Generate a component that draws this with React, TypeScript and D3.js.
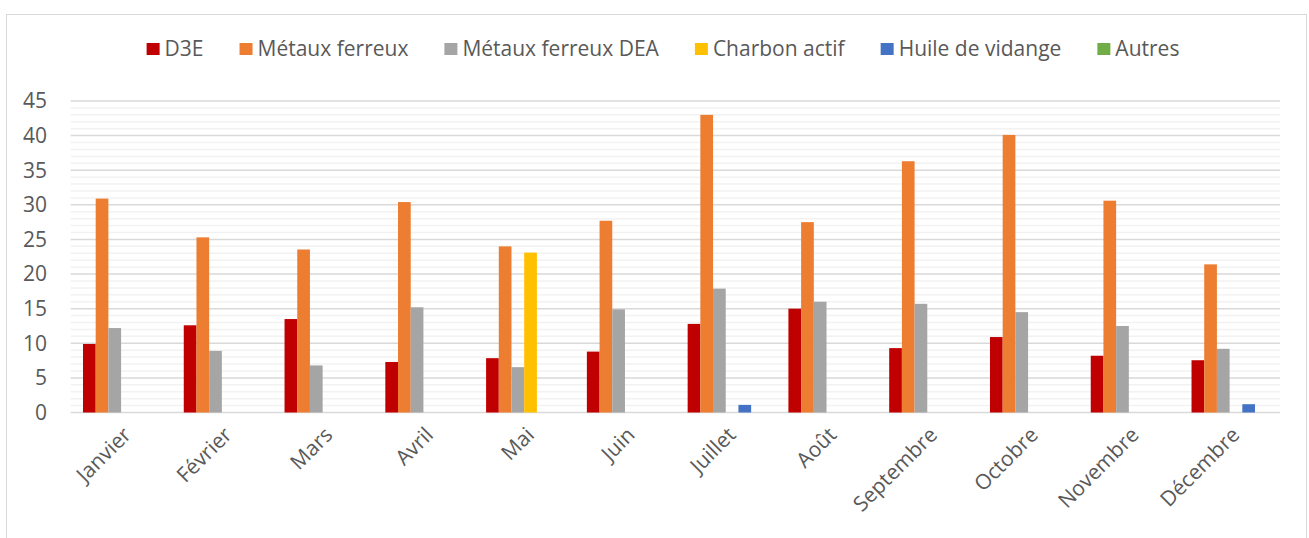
import React, { useEffect, useRef } from "react";
import * as d3 from "d3";

// --- Data ---
const months = [
  "Janvier", "Février", "Mars", "Avril", "Mai", "Juin",
  "Juillet", "Août", "Septembre", "Octobre", "Novembre", "Décembre",
];
const seriesNames = [
  "D3E", "Métaux ferreux", "Métaux ferreux DEA",
  "Charbon actif", "Huile de vidange", "Autres",
];
const d3e = [9.9, 12.6, 13.5, 7.3, 7.85, 8.8, 12.8, 15.0, 9.3, 10.9, 8.2, 7.55];
const metauxFerreux = [30.9, 25.3, 23.55, 30.4, 24.0, 27.7, 43.0, 27.5, 36.3, 40.1, 30.6, 21.4];
const metauxFerreuxDEA = [12.2, 8.9, 6.8, 15.2, 6.55, 14.9, 17.9, 16.0, 15.7, 14.5, 12.5, 9.2];
const charbonActif = [0, 0, 0, 0, 23.1, 0, 0, 0, 0, 0, 0, 0];
const huileVidange = [0, 0, 0, 0, 0, 0, 1.1, 0, 0, 0, 0, 1.2];
const autres = [0, 0, 0, 0, 0, 0, 0, 0, 0, 0, 0, 0];
const yTicks = [0, 5, 10, 15, 20, 25, 30, 35, 40, 45];
const colors = ["#C00000", "#ED7D31", "#A5A5A5", "#FFC000", "#4472C4", "#70AD47"];

const allSeries = [d3e, metauxFerreux, metauxFerreuxDEA, charbonActif, huileVidange, autres];

const App = () => {
  const svgRef = useRef<SVGSVGElement | null>(null);

  useEffect(() => {
    const root = d3.select(svgRef.current);
    root.selectAll("*").remove();

    const width = 1309;
    const height = 538;
    const font = "'Open Sans', sans-serif";
    const textColor = "#595959";
    const fontSize = "21px";

    root.attr("width", width).attr("height", height);

    // chart frame
    root
      .append("rect")
      .attr("x", 6.5)
      .attr("y", 14.5)
      .attr("width", 1300)
      .attr("height", 540)
      .attr("fill", "#fff")
      .attr("stroke", "#D9D9D9");

    const plot = { left: 70.7, right: 1280, top: 101, bottom: 412.5 };

    // --- Scales ---
    const x0 = d3.scaleBand().domain(months).range([plot.left, plot.right]).padding(0);
    const groupPad = x0.bandwidth() * 0.122;
    const x1 = d3
      .scaleBand()
      .domain(seriesNames)
      .range([groupPad, x0.bandwidth() - groupPad])
      .padding(0);
    const y = d3.scaleLinear().domain([0, 45]).range([plot.bottom, plot.top]);

    // --- Grid ---
    const minor = d3.range(0, 46, 1).filter((v) => v % 5 !== 0);
    root
      .append("g")
      .selectAll("line")
      .data(minor)
      .join("line")
      .attr("x1", plot.left)
      .attr("x2", plot.right)
      .attr("y1", (d) => y(d))
      .attr("y2", (d) => y(d))
      .attr("stroke", "#F2F2F2")
      .attr("stroke-width", 1.5);

    root
      .append("g")
      .selectAll("line")
      .data(yTicks)
      .join("line")
      .attr("x1", plot.left)
      .attr("x2", plot.right)
      .attr("y1", (d) => y(d))
      .attr("y2", (d) => y(d))
      .attr("stroke", "#D9D9D9")
      .attr("stroke-width", 1.5);

    // Y tick labels
    root
      .append("g")
      .selectAll("text")
      .data(yTicks)
      .join("text")
      .attr("x", 47)
      .attr("y", (d) => y(d))
      .attr("dy", "0.35em")
      .attr("text-anchor", "end")
      .style("font-family", font)
      .style("font-size", fontSize)
      .style("fill", textColor)
      .text((d) => d);

    // --- Bars ---
    const groups = root
      .append("g")
      .selectAll("g")
      .data(months)
      .join("g")
      .attr("transform", (d) => `translate(${x0(d)},0)`);

    groups
      .selectAll("rect")
      .data((m, i) => seriesNames.map((s, k) => ({ s, k, v: allSeries[k][i] })))
      .join("rect")
      .attr("x", (d) => x1(d.s)!)
      .attr("width", x1.bandwidth())
      .attr("y", (d) => y(d.v))
      .attr("height", (d) => y(0) - y(d.v))
      .attr("fill", (d) => colors[d.k]);

    // X labels
    root
      .append("g")
      .selectAll("text")
      .data(months)
      .join("text")
      .attr("transform", (d) => `translate(${x0(d)! + x0.bandwidth() / 2 + 6}, 431) rotate(-45)`)
      .attr("text-anchor", "end")
      .attr("dy", "0.35em")
      .style("font-family", font)
      .style("font-size", fontSize)
      .style("fill", textColor)
      .text((d) => d);

    // --- Legend ---
    const legend = root.append("g");
    const items = legend
      .selectAll("g")
      .data(seriesNames)
      .join("g");
    items
      .append("rect")
      .attr("width", 13)
      .attr("height", 12)
      .attr("y", -6)
      .attr("fill", (d, i) => colors[i]);
    items
      .append("text")
      .attr("x", 18)
      .attr("dy", "0.35em")
      .style("font-family", font)
      .style("font-size", fontSize)
      .style("fill", textColor)
      .text((d) => d);

    let cursor = 0;
    const gap = 36;
    items.each(function () {
      const g = d3.select(this);
      const tw = (g.select("text").node() as SVGTextElement).getComputedTextLength();
      g.attr("transform", `translate(${cursor},49)`);
      cursor += 18 + tw + gap;
    });
    const total = cursor - gap;
    legend.attr("transform", `translate(${663 - total / 2},0)`);
  }, []);

  return (
    <svg
      ref={svgRef}
      style={{ position: "absolute", left: 0, top: 0, background: "#fff" }}
    ></svg>
  );
};

export default App;
